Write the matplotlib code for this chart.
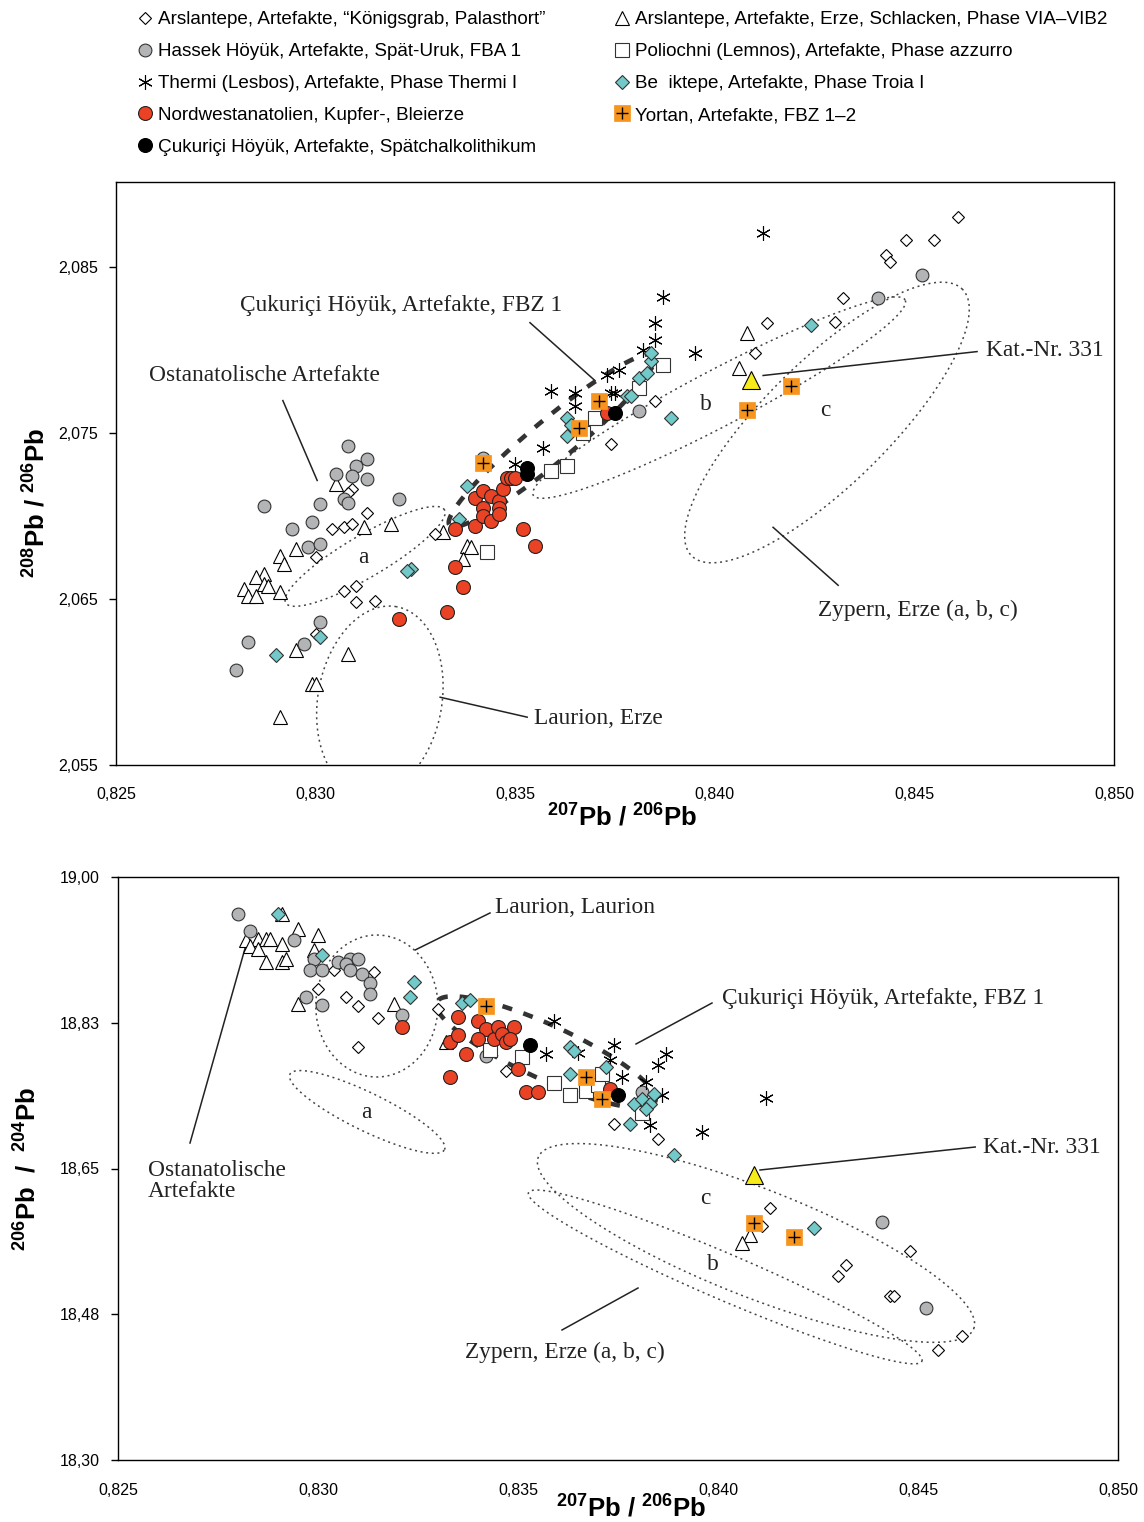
import numpy as np
import matplotlib
matplotlib.use('Agg')
import matplotlib.pyplot as plt
from matplotlib.lines import Line2D

plt.rcParams['font.family'] = ['Liberation Sans', 'DejaVu Sans']
plt.rcParams['mathtext.default'] = 'regular'

# ------------------------------------------------------------------ data
# top panel: x = 207Pb/206Pb, y = 208Pb/206Pb
t_kg_x = [0.8309, 0.8308, 0.8313, 0.8304, 0.8307, 0.8309, 0.8300, 0.8330, 0.8307, 0.8310, 0.8310, 0.8315,
          0.8300, 0.8374, 0.8385, 0.8461, 0.8448, 0.8455, 0.8443, 0.8444, 0.8432, 0.8413, 0.8430, 0.8410]
t_kg_y = [2.0716, 2.0714, 2.0702, 2.0692, 2.0693, 2.0695, 2.0675, 2.0689, 2.0655, 2.0658, 2.0648, 2.0649,
          2.0629, 2.0743, 2.0769, 2.0880, 2.0866, 2.0866, 2.0857, 2.0853, 2.0831, 2.0816, 2.0817, 2.0798]
t_hs_x = [0.8308, 0.8313, 0.8310, 0.8305, 0.8309, 0.8313, 0.8287, 0.8301, 0.8307, 0.8308, 0.8321, 0.8299,
          0.8294, 0.8298, 0.8301, 0.8301, 0.8283, 0.8297, 0.8280, 0.8342, 0.8381, 0.8441, 0.8452]
t_hs_y = [2.0742, 2.0734, 2.0730, 2.0725, 2.0724, 2.0722, 2.0706, 2.0707, 2.0710, 2.0708, 2.0710, 2.0696,
          2.0692, 2.0681, 2.0683, 2.0636, 2.0624, 2.0623, 2.0607, 2.0735, 2.0763, 2.0831, 2.0845]
t_th_x = [0.8387, 0.8385, 0.8385, 0.8382, 0.8376, 0.8373, 0.8359, 0.8365, 0.8365, 0.8374, 0.8375, 0.8357,
          0.8350, 0.8395, 0.8412]
t_th_y = [2.0832, 2.0816, 2.0806, 2.0800, 2.0788, 2.0785, 2.0775, 2.0774, 2.0766, 2.0774, 2.0774, 2.0741,
          2.0731, 2.0798, 2.0870]
t_nw_x = [0.8335, 0.8335, 0.8337, 0.8333, 0.8321, 0.8340, 0.8340, 0.8342, 0.8342, 0.8342, 0.8344, 0.8344,
          0.8346, 0.8346, 0.8346, 0.8347, 0.8348, 0.8349, 0.8350, 0.8352, 0.8355, 0.8373]
t_nw_y = [2.0692, 2.0669, 2.0657, 2.0642, 2.0638, 2.0694, 2.0711, 2.0715, 2.0705, 2.0700, 2.0697, 2.0712,
          2.0709, 2.0705, 2.0701, 2.0716, 2.0723, 2.0723, 2.0723, 2.0692, 2.0682, 2.0762]
t_ck_x = [0.8353, 0.8353, 0.8375]
t_ck_y = [2.0729, 2.0725, 2.0762]
t_ae_x = [0.8305, 0.8312, 0.8319, 0.8295, 0.8291, 0.8292, 0.8287, 0.8285, 0.8287, 0.8288, 0.8282, 0.8283,
          0.8285, 0.8291, 0.8332, 0.8295, 0.8308, 0.8299, 0.8300, 0.8291, 0.8338, 0.8339, 0.8337, 0.8408, 0.8406]
t_ae_y = [2.0719, 2.0693, 2.0695, 2.0680, 2.0676, 2.0671, 2.0665, 2.0663, 2.0659, 2.0658, 2.0656, 2.0652,
          2.0652, 2.0654, 2.0690, 2.0619, 2.0617, 2.0599, 2.0599, 2.0579, 2.0682, 2.0681, 2.0674, 2.0810, 2.0789]
t_po_x = [0.8343, 0.8359, 0.8363, 0.8370, 0.8367, 0.8381, 0.8387]
t_po_y = [2.0678, 2.0727, 2.0730, 2.0759, 2.0750, 2.0777, 2.0791]
t_be_x = [0.8324, 0.8323, 0.8301, 0.8290, 0.8336, 0.8338, 0.8363, 0.8363, 0.8364, 0.8378, 0.8379, 0.8381,
          0.8383, 0.8384, 0.8384, 0.8389, 0.8424]
t_be_y = [2.0668, 2.0667, 2.0627, 2.0616, 2.0698, 2.0718, 2.0759, 2.0748, 2.0755, 2.0772, 2.0772, 2.0783,
          2.0786, 2.0793, 2.0798, 2.0759, 2.0815]
t_yo_x = [0.8342, 0.8366, 0.8371, 0.8408, 0.8419]
t_yo_y = [2.0732, 2.0753, 2.0769, 2.0764, 2.0778]
t_kat_x = [0.8409]
t_kat_y = [2.0782]

# bottom panel: x = 207Pb/206Pb, y = 206Pb/204Pb
b_kg_x = [0.8304, 0.8314, 0.8300, 0.8307, 0.8310, 0.8315, 0.8310, 0.8330, 0.8347, 0.8374, 0.8385, 0.8413,
          0.8411, 0.8448, 0.8432, 0.8430, 0.8443, 0.8444, 0.8461, 0.8455]
b_kg_y = [18.888, 18.886, 18.866, 18.856, 18.845, 18.831, 18.796, 18.842, 18.767, 18.704, 18.686, 18.602,
          18.581, 18.551, 18.534, 18.521, 18.497, 18.497, 18.449, 18.432]
b_hs_x = [0.8280, 0.8283, 0.8294, 0.8299, 0.8298, 0.8301, 0.8305, 0.8308, 0.8310, 0.8307, 0.8308, 0.8311,
          0.8313, 0.8313, 0.8297, 0.8301, 0.8321, 0.8342, 0.8381, 0.8441, 0.8452]
b_hs_y = [18.956, 18.935, 18.924, 18.902, 18.888, 18.888, 18.898, 18.902, 18.902, 18.896, 18.888, 18.884,
          18.873, 18.860, 18.856, 18.846, 18.834, 18.785, 18.742, 18.586, 18.483]
b_th_x = [0.8359, 0.8357, 0.8365, 0.8374, 0.8373, 0.8376, 0.8385, 0.8387, 0.8382, 0.8386, 0.8383, 0.8396, 0.8412]
b_th_y = [18.827, 18.788, 18.789, 18.798, 18.780, 18.760, 18.774, 18.788, 18.754, 18.738, 18.702, 18.694, 18.735]
b_nw_x = [0.8321, 0.8335, 0.8333, 0.8335, 0.8337, 0.8333, 0.8340, 0.8342, 0.8340, 0.8344, 0.8345, 0.8346,
          0.8349, 0.8347, 0.8348, 0.8350, 0.8352, 0.8355, 0.8373]
b_nw_y = [18.820, 18.832, 18.802, 18.810, 18.788, 18.760, 18.827, 18.817, 18.806, 18.806, 18.820, 18.812,
          18.820, 18.802, 18.806, 18.770, 18.742, 18.742, 18.746]
b_ck_x = [0.8353, 0.8375]
b_ck_y = [18.798, 18.738]
b_ae_x = [0.8291, 0.8295, 0.8300, 0.8282, 0.8285, 0.8287, 0.8288, 0.8283, 0.8285, 0.8291, 0.8287, 0.8291,
          0.8292, 0.8299, 0.8295, 0.8319, 0.8332, 0.8408, 0.8406]
b_ae_y = [18.956, 18.937, 18.930, 18.924, 18.925, 18.925, 18.926, 18.917, 18.914, 18.920, 18.898, 18.898,
          18.901, 18.912, 18.848, 18.848, 18.802, 18.570, 18.560]
b_po_x = [0.8343, 0.8351, 0.8359, 0.8363, 0.8367, 0.8370, 0.8371, 0.8381]
b_po_y = [18.792, 18.784, 18.753, 18.738, 18.743, 18.750, 18.764, 18.717]
b_be_x = [0.8290, 0.8301, 0.8324, 0.8323, 0.8336, 0.8338, 0.8363, 0.8364, 0.8363, 0.8372, 0.8379, 0.8381,
          0.8383, 0.8384, 0.8382, 0.8378, 0.8389, 0.8424]
b_be_y = [18.956, 18.906, 18.874, 18.856, 18.849, 18.852, 18.796, 18.791, 18.764, 18.772, 18.728, 18.734,
          18.728, 18.739, 18.722, 18.704, 18.666, 18.579]
b_yo_x = [0.8342, 0.8367, 0.8371, 0.8409, 0.8419]
b_yo_y = [18.845, 18.760, 18.734, 18.585, 18.568]
b_kat_x = [0.8409]
b_kat_y = [18.642]

legend_labels = [
    'Arslantepe, Artefakte, \u201cK\u00f6nigsgrab, Palasthort\u201d',
    'Hassek H\u00f6y\u00fck, Artefakte, Sp\u00e4t-Uruk, FBA 1',
    'Thermi (Lesbos), Artefakte, Phase Thermi I',
    'Nordwestanatolien, Kupfer-, Bleierze',
    '\u00c7ukuri\u00e7i H\u00f6y\u00fck, Artefakte, Sp\u00e4tchalkolithikum',
    'Arslantepe, Artefakte, Erze, Schlacken, Phase VIA\u2013VIB2',
    'Poliochni (Lemnos), Artefakte, Phase azzurro',
    'Be  iktepe, Artefakte, Phase Troia I',
    'Yortan, Artefakte, FBZ 1\u20132',
]

x_ticks = [0.825, 0.830, 0.835, 0.840, 0.845, 0.850]
x_ticklabels = ['0,825', '0,830', '0,835', '0,840', '0,845', '0,850']
t_yticks = [2.055, 2.065, 2.075, 2.085]
t_yticklabels = ['2,055', '2,065', '2,075', '2,085']
b_yticks = [18.30, 18.475, 18.65, 18.825, 19.00]
b_yticklabels = ['18,30', '18,48', '18,65', '18,83', '19,00']

# ------------------------------------------------------------------ styles
GRAY = '#b2b4b6'
RED = '#ea4224'
CYAN = '#72c9c9'
ORANGE = '#f7941e'
YELLOW = '#f7ec1a'
EW = 0.8

styles = {
    'kg': dict(marker='D', ms=6.2, mfc='white', mec='black', mew=EW),
    'hs': dict(marker='o', ms=9.2, mfc=GRAY, mec='#333333', mew=EW),
    'th': dict(marker=(6, 2, 0), ms=10.5, mfc='none', mec='black', mew=0.8),
    'nw': dict(marker='o', ms=10.0, mfc=RED, mec='#222222', mew=EW),
    'ck': dict(marker='o', ms=10.0, mfc='black', mec='black', mew=EW),
    'ae': dict(marker='^', ms=9.5, mfc='white', mec='black', mew=EW),
    'po': dict(marker='s', ms=9.5, mfc='white', mec='#333333', mew=EW),
    'be': dict(marker='D', ms=6.8, mfc=CYAN, mec='#333333', mew=EW),
    'yo': dict(marker='s', ms=11.0, mfc=ORANGE, mec=ORANGE, mew=0.5),
}
order = ['kg', 'hs', 'th', 'nw', 'ck', 'ae', 'po', 'be', 'yo']
zorders = {'ae': 3, 'kg': 3.2, 'hs': 3.4, 'po': 3.6, 'th': 3.8, 'be': 4, 'nw': 4.2, 'ck': 4.4, 'yo': 4.6}

fig = plt.figure(figsize=(11.44, 15.22), dpi=100)
ax1 = fig.add_axes([116 / 1144, 1 - 765 / 1522, 998 / 1144, 583 / 1522])
ax2 = fig.add_axes([118 / 1144, 1 - 1460 / 1522, 1000 / 1144, 583 / 1522])


def ring(ax, cx, cy, a, b, ang, **kw):
    bb = ax.get_position()
    W = bb.width * fig.get_figwidth() * fig.dpi
    H = bb.height * fig.get_figheight() * fig.dpi
    x0, x1 = ax.get_xlim()
    y0, y1 = ax.get_ylim()
    fx = (cx - x0) / (x1 - x0)
    fy = (cy - y0) / (y1 - y0)
    t = np.linspace(0, 2 * np.pi, 400)
    th = np.deg2rad(ang)
    u = a * np.cos(t) * np.cos(th) - b * np.sin(t) * np.sin(th)
    v = a * np.cos(t) * np.sin(th) + b * np.sin(t) * np.cos(th)
    ax.plot(fx + u / W, fy + v / H, transform=ax.transAxes, **kw)


DOT = dict(color='#444444', lw=1.1, ls=(0, (1.3, 2.4)), zorder=2)
DASH = dict(color='#333333', lw=3.3, ls=(0, (2.2, 2.6)), zorder=2.5)
SERIF = dict(family=['Liberation Serif', 'DejaVu Serif'], fontsize=16.8, color='#222222')
LINE = dict(color='#222222', lw=1.1)


def draw_points(ax, series, kat):
    for key in ['ae', 'kg', 'hs', 'po', 'th', 'be', 'nw', 'ck', 'yo']:
        xs, ys = series[key]
        ax.plot(xs, ys, ls='none', zorder=zorders[key], **styles[key])
        if key == 'yo':
            ax.plot(xs, ys, ls='none', marker='+', ms=9, mec='black', mew=1.0, zorder=4.7)
    ax.plot(kat[0], kat[1], ls='none', marker='^', ms=12.5, mfc=YELLOW, mec='black', mew=EW, zorder=5)


def style_axes(ax, yticks, ylabels, xpad):
    ax.set_xlim(0.825, 0.850)
    ax.set_xticks(x_ticks)
    ax.set_xticklabels(x_ticklabels)
    ax.set_yticks(yticks)
    ax.set_yticklabels(ylabels)
    ax.tick_params(axis='both', direction='out', length=5, width=1, labelsize=11.5, pad=8)
    ax.tick_params(axis='x', length=0, pad=xpad)
    for s in ax.spines.values():
        s.set_linewidth(1.0)


LABEL = dict(fontsize=18.5, fontweight='bold')

# ---------------- top panel
ax1.set_ylim(2.055, 2.0901)
style_axes(ax1, t_yticks, t_yticklabels, 15.5)
draw_points(ax1, {'kg': (t_kg_x, t_kg_y), 'hs': (t_hs_x, t_hs_y), 'th': (t_th_x, t_th_y),
                  'nw': (t_nw_x, t_nw_y), 'ck': (t_ck_x, t_ck_y), 'ae': (t_ae_x, t_ae_y),
                  'po': (t_po_x, t_po_y), 'be': (t_be_x, t_be_y), 'yo': (t_yo_x, t_yo_y)},
            (t_kat_x, t_kat_y))
ring(ax1, 0.83124, 2.06756, 92, 21, 30.4, **DOT)           # a
ring(ax1, 0.83161, 2.0589, 95, 62, 80, **DOT)              # Laurion
ring(ax1, 0.84011, 2.07712, 210, 28, 27.7, **DOT)          # b
ring(ax1, 0.84281, 2.07562, 190, 62, 44.5, **DOT)          # c
ring(ax1, 0.83592, 2.07454, 133, 21, 39.7, **DASH)         # Cukurici FBZ 1

ax1.text(0.83214, 2.08265, '\u00c7ukuri\u00e7i H\u00f6y\u00fck, Artefakte, FBZ 1', ha='center', va='center', **SERIF)
ax1.plot([0.83537, 0.8370], [2.08163, 2.07814], **LINE)
ax1.text(0.82873, 2.07845, 'Ostanatolische Artefakte', ha='center', va='center', **SERIF)
ax1.plot([0.82918, 0.83004], [2.07694, 2.07213], **LINE)
ax1.text(0.84679, 2.07995, 'Kat.-Nr. 331', ha='left', va='center', **SERIF)
ax1.plot([0.84657, 0.84121], [2.07989, 2.07845], **LINE)
ax1.text(0.84259, 2.06431, 'Zypern, Erze (a, b, c)', ha='left', va='center', **SERIF)
ax1.plot([0.84309, 0.84146], [2.06582, 2.06931], **LINE)
ax1.text(0.83547, 2.05782, 'Laurion, Erze', ha='left', va='center', **SERIF)
ax1.plot([0.8353, 0.83312], [2.05788, 2.05908], **LINE)
ax1.text(0.83119, 2.0675, 'a', ha='center', va='center', **SERIF)
ax1.text(0.83978, 2.0767, 'b', ha='center', va='center', **SERIF)
ax1.text(0.84276, 2.07634, 'c', ha='center', va='center', **SERIF)

ax1.set_xlabel('$^{207}$Pb / $^{206}$Pb', **LABEL)
ax1.set_ylabel('$^{208}$Pb / $^{206}$Pb', **LABEL)
ax1.xaxis.set_label_coords(0.507, -0.066)
ax1.yaxis.set_label_coords(-0.066, 0.45)

# ---------------- bottom panel
ax2.set_ylim(18.30, 19.00)
style_axes(ax2, b_yticks, b_yticklabels, 16.5)
draw_points(ax2, {'kg': (b_kg_x, b_kg_y), 'hs': (b_hs_x, b_hs_y), 'th': (b_th_x, b_th_y),
                  'nw': (b_nw_x, b_nw_y), 'ck': (b_ck_x, b_ck_y), 'ae': (b_ae_x, b_ae_y),
                  'po': (b_po_x, b_po_y), 'be': (b_be_x, b_be_y), 'yo': (b_yo_x, b_yo_y)},
            (b_kat_x, b_kat_y))
ring(ax2, 0.83147, 18.8451, 61, 71, 0, **DOT)              # Laurion
ring(ax2, 0.83123, 18.7179, 86, 19, -26, **DOT)            # a
ring(ax2, 0.84095, 18.5606, 234, 54, -21.5, **DOT)         # c
ring(ax2, 0.84018, 18.5198, 214, 23, -23.2, **DOT)         # b
ring(ax2, 0.83570, 18.7899, 120, 27, -24.6, **DASH)        # Cukurici FBZ 1

ax2.text(0.83443, 18.9628, 'Laurion, Laurion', ha='left', va='center', **SERIF)
ax2.plot([0.8343, 0.83243], [18.9568, 18.9124], **LINE)
ax2.text(0.8401, 18.8547, '\u00c7ukuri\u00e7i H\u00f6y\u00fck, Artefakte, FBZ 1', ha='left', va='center', **SERIF)
ax2.plot([0.83985, 0.83795], [18.8487, 18.7995], **LINE)
ax2.text(0.84663, 18.6758, 'Kat.-Nr. 331', ha='left', va='center', **SERIF)
ax2.plot([0.84643, 0.84105], [18.6758, 18.6482], **LINE)
ax2.text(0.82575, 18.635, 'Ostanatolische\nArtefakte', ha='left', va='center', linespacing=1.05, **SERIF)
ax2.plot([0.8282, 0.8268], [18.9184, 18.6806], **LINE)
ax2.text(0.83368, 18.4297, 'Zypern, Erze (a, b, c)', ha='left', va='center', **SERIF)
ax2.plot([0.838, 0.8361], [18.5065, 18.4561], **LINE)
ax2.text(0.8312, 18.7167, 'a', ha='center', va='center', **SERIF)
ax2.text(0.83988, 18.5342, 'b', ha='center', va='center', **SERIF)
ax2.text(0.83968, 18.6134, 'c', ha='center', va='center', **SERIF)

ax2.set_xlabel('$^{207}$Pb / $^{206}$Pb', **LABEL)
ax2.set_ylabel('$^{206}$Pb  /  $^{204}$Pb', **LABEL)
ax2.xaxis.set_label_coords(0.513, -0.060)
ax2.yaxis.set_label_coords(-0.077, 0.5)

# ---------------- legend (two columns)
handles = []
for key in order:
    h = Line2D([], [], ls='none', **styles[key])
    if key == 'yo':
        h2 = Line2D([], [], ls='none', marker='+', ms=9, mec='black', mew=1.0)
        h = (h, h2)
    handles.append(h)

legkw = dict(frameon=False, fontsize=13.6, handlelength=0.75, handletextpad=0.3,
             labelspacing=0.78, borderpad=0, borderaxespad=0, loc='upper left')
fig.legend(handles[:5], legend_labels[:5], bbox_to_anchor=(138 / 1144, 1 - 11 / 1522), **legkw)
fig.legend(handles[5:], legend_labels[5:], bbox_to_anchor=(615 / 1144, 1 - 11 / 1522), **legkw)

fig.savefig('out.png', dpi=100)
